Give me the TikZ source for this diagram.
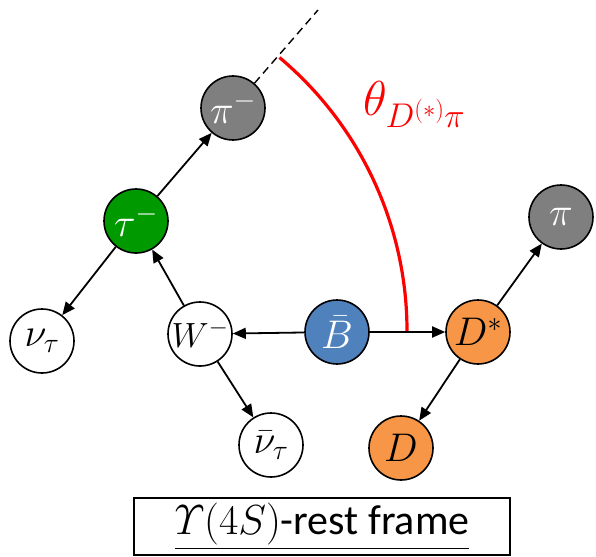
\RequirePackage{fix-cm}
\documentclass[tikz,border=0pt]{standalone}
\usepackage{amsmath}
\usepackage{fontspec}
\newfontfamily\calib{Carlito}
\usetikzlibrary{arrows.meta}
\definecolor{pgray}{HTML}{7F7F7F}
\definecolor{tgreen}{HTML}{009A00}
\definecolor{bblue}{HTML}{4F81BD}
\definecolor{dorange}{HTML}{F79646}
\newcommand\plab[1]{\makebox[0pt][c]{#1}}
\begin{document}
\begin{tikzpicture}[x=1pt,y=1pt,
  particle/.style={circle,draw=black,line width=1.6pt,minimum size=64pt,inner sep=0pt,fill=white,font=\fontsize{40}{44}\selectfont},
  decay/.style={line width=1.8pt,-{Triangle[length=13pt,width=11pt]}},
  guide/.style={line width=1.4pt,dash pattern=on 8pt off 5pt},
  anglearc/.style={red,line width=3.2pt},
]
\useasboundingbox (0,0) rectangle (596,-556);
\node[particle,fill=pgray,text=white] (pim) at (233,-108) {\plab{$\pi^-$}};
\node[particle,fill=tgreen,text=white] (tau) at (136,-221) {\plab{$\tau^-$}};
\node[particle] (nut) at (42,-341) {\plab{$\nu_\tau$}};
\node[particle,font=\fontsize{35}{40}\selectfont] (W) at (200,-334) {\plab{$W^-$}};
\node[particle,fill=bblue,text=white] (B) at (337,-332) {\plab{$\bar{B}$}};
\node[particle,fill=dorange] (Ds) at (478,-332) {\plab{$D^*$}};
\node[particle,fill=pgray,text=white] (pi) at (561,-217) {\plab{$\pi$}};
\node[particle,fill=dorange] (D) at (401,-448) {\plab{$D$}};
\node[particle] (nub) at (271,-445) {\plab{$\bar{\nu}_\tau$}};
\draw[decay] (tau) -- (pim);
\draw[decay] (tau) -- (nut);
\draw[decay] (W) -- (tau);
\draw[decay] (W) -- (nub);
\draw[decay] (B) -- (W);
\draw[decay] (B) -- (Ds);
\draw[decay] (Ds) -- (pi);
\draw[decay] (Ds) -- (D);
\coordinate (dashend) at (318,-10);
\draw[guide] (pim) -- (dashend);
\coordinate (arcc) at (50,-331);
\draw[anglearc] ([shift={(50:357)}]arcc) arc[start angle=50,end angle=0,radius=357];
\node[anchor=base west,inner sep=0pt,text=red,font=\fontsize{49}{54}\selectfont] (theta) at (363,-116) {$\theta_{D^{(*)}\pi}$};
\node[draw,line width=1.2pt,minimum width=376pt,minimum height=57pt,inner sep=0pt,font=\calib\fontsize{42}{46}\selectfont] (frame) at (322,-526.5) {\underline{$\varUpsilon(4S)$-rest frame}};
\end{tikzpicture}
\end{document}
